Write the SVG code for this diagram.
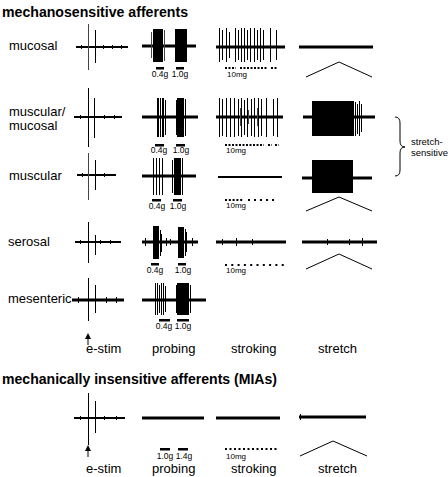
<svg xmlns="http://www.w3.org/2000/svg" width="448" height="477" viewBox="0 0 448 477">
<style>
text{font-family:"Liberation Sans",Arial,sans-serif;fill:#000}
.t{font-size:15px;font-weight:bold}
.l{font-size:13px}
.s{font-size:8.5px}
.m{font-size:8px}
.b{font-size:9.5px}
.tr{stroke:#000;stroke-width:3;fill:none}
.tn{stroke:#000;stroke-width:2;fill:none}
.sp{stroke:#000;stroke-width:1;fill:none;shape-rendering:crispEdges}
.sg{stroke:#444;stroke-width:1;fill:none;shape-rendering:crispEdges}
.nz{stroke:#000;stroke-width:1;fill:none;shape-rendering:crispEdges}
.ln{stroke:#000;stroke-width:1;fill:none}
.bar{fill:#000}
</style>
<defs>
<marker id="ah" markerWidth="6" markerHeight="6" refX="3" refY="3" orient="auto"><path d="M0,0L6,3L0,6Z" fill="#000"/></marker>
</defs>

<text class="t" x="2" y="17" textLength="186" lengthAdjust="spacingAndGlyphs">mechanosensitive afferents</text>

<!-- mucosal -->
<g id="row-mucosal">
<text class="l" x="9" y="50">mucosal</text>
<g id="mucosal-estim">
<path class="tn" d="M76 47H128"/>
<path class="nz" d="M81 45V49M103 45V49M112 45V49M121 45V49"/>
<path class="sg" d="M88 24V70"/><path class="sp" d="M95 30V63"/>
</g>
<g id="mucosal-probing">
<path class="tr" d="M142 46H196"/>
<rect x="153" y="29" width="10" height="33"/><path class="sg" d="M164 30V61M151 32V58"/>
<rect x="175" y="29" width="12" height="33"/>
<rect class="bar" x="156" y="67" width="8" height="2.5"/><rect class="bar" x="176" y="67" width="8" height="2.5"/>
<text class="s" x="160" y="77" text-anchor="middle">0.4g</text><text class="s" x="180" y="77" text-anchor="middle">1.0g</text>
</g>
<g id="mucosal-stroking">
<path class="tr" d="M216 47H285"/>
<path class="sp" d="M219 28V62M222 30V60M226 28V62M229 32V58M235 28V62M238 30V60M241 28V62M244 28V62M247 30V60M250 28V62M254 28V62M257 30V60M260 28V62M263 30V60M270 28V62M276 30V60"/>
<path class="tn" stroke-dasharray="2,1.5" d="M225 68H236M240 68H268M271 68H277"/>
<text class="m" x="227" y="77">10mg</text>
</g>
<g id="mucosal-stretch">
<path class="tr" stroke-width="4" d="M299 47H373"/>
<path class="ln" d="M306 77L339 62L372 77"/>
</g>
</g>

<!-- muscular/mucosal -->
<g id="row-muscular-mucosal">
<text class="l" x="9" y="116">muscular/</text>
<text class="l" x="9" y="130">mucosal</text>
<g id="mm-estim">
<path class="tn" d="M74 117H122"/>
<path class="nz" d="M80 115V119M104 115V119M114 115V119"/>
<path class="sp" d="M88 88V147M94 98V138"/>
</g>
<g id="mm-probing">
<path class="tr" d="M142 117H198"/>
<path class="sp" d="M157 98V137M158 98V137M160 98V137M162 98V137M163 98V137M165 100V135"/>
<rect x="177" y="98" width="7" height="39"/><path class="sp" d="M185 99V136M176 100V135"/>
<rect class="bar" x="155" y="144" width="9" height="2.5"/><rect class="bar" x="176" y="144" width="9" height="2.5"/>
<text class="s" x="159" y="153" text-anchor="middle">0.4g</text><text class="s" x="181" y="153" text-anchor="middle">1.0g</text>
</g>
<g id="mm-stroking">
<path class="tr" d="M216 117H283"/>
<path class="sp" d="M219 98V137M222 99V136M226 98V137M230 98V137M234 98V137M238 99V136M241 98V137M244 100V135M247 98V137M251 99V136M254 98V137M258 98V137M261 99V136M266 98V137M273 99V136M277 98V137"/>
<path class="sg" d="M240 108V126M248 110V124M257 108V126"/>
<path class="tn" stroke-dasharray="2,1.5" d="M225 145H264M268 145H272M275 145H279"/>
<text class="m" x="226" y="153">10mg</text>
</g>
<g id="mm-stretch">
<path class="tr" d="M303 117H375"/>
<rect x="312" y="101" width="42" height="35"/>
<path class="sp" d="M355 102V136M357 104V134M359 101V136M361 104V132"/>
</g>
</g>

<!-- brace -->
<g id="stretch-sensitive">
<path class="ln" d="M395 117Q400 117 400 123V141Q400 147 405 147Q400 147 400 153V170Q400 176 395 176"/>
<text class="b" x="411" y="145">stretch-</text>
<text class="b" x="411" y="156">sensitive</text>
</g>

<!-- muscular -->
<g id="row-muscular">
<text class="l" x="9" y="180">muscular</text>
<g id="musc-estim">
<path class="tn" d="M77 175H116"/>
<path class="nz" d="M82 173V177M104 173V177"/>
<path class="sg" d="M88 153V200"/><path class="sp" d="M95 160V190"/>
</g>
<g id="musc-probing">
<path class="tr" d="M142 176H196"/>
<path class="sp" d="M153 158V195M156 158V195M159 158V195M162 158V195"/>
<rect x="174" y="158" width="7" height="37"/><path class="sp" d="M182 158V195M172 160V193"/>
<rect class="bar" x="152" y="199" width="9" height="2.5"/><rect class="bar" x="173" y="199" width="9" height="2.5"/>
<text class="s" x="157" y="209" text-anchor="middle">0.4g</text><text class="s" x="178" y="209" text-anchor="middle">1.0g</text>
</g>
<g id="musc-stroking">
<path class="tn" d="M218 177H282"/>
<path class="tn" stroke-dasharray="2,1.8" d="M225 200H244"/>
<path class="tn" stroke-dasharray="2,4" d="M248 200H277"/>
<text class="m" x="226" y="208">10mg</text>
</g>
<g id="musc-stretch">
<path class="tr" d="M302 178H372"/>
<rect x="312" y="160" width="41" height="33"/>
<path class="ln" d="M306 211L339 197L372 211"/>
</g>
</g>

<!-- serosal -->
<g id="row-serosal">
<text class="l" x="8" y="246">serosal</text>
<g id="ser-estim">
<path class="tn" d="M75 242H121"/>
<path class="nz" d="M80 240V244M100 240V244M110 240V244"/>
<path class="sp" d="M88 222V263M95 235V255"/>
</g>
<g id="ser-probing">
<path class="tr" stroke-width="4" d="M142 242H198"/>
<path class="nz" d="M145 238V246M166 238V246M170 239V245M192 238V246"/>
<rect x="153" y="226" width="6" height="33"/><path class="sp" d="M160 230V256M161 234V252"/>
<rect x="178" y="227" width="6" height="31"/><path class="sp" d="M185 229V256M186 232V252"/>
<rect class="bar" x="151" y="263" width="8" height="2.5"/><rect class="bar" x="178" y="263" width="8" height="2.5"/>
<text class="s" x="155" y="273" text-anchor="middle">0.4g</text><text class="s" x="183" y="273" text-anchor="middle">1.0g</text>
</g>
<g id="ser-stroking">
<path class="tr" d="M216 242H286"/>
<path class="nz" d="M222 239V245M236 238V246M252 239V245"/>
<path class="tn" stroke-dasharray="2,4.3" d="M225 265H284"/>
<text class="m" x="226" y="273">10mg</text>
</g>
<g id="ser-stretch">
<path class="tr" stroke-width="4" d="M302 242H377"/>
<path class="nz" d="M327 239V245M349 239V245M362 238V246"/>
<path class="ln" d="M306 269L339 254L372 269"/>
</g>
</g>

<!-- mesenteric -->
<g id="row-mesenteric">
<text class="l" x="8" y="303">mesenteric</text>
<g id="mes-estim">
<path class="tr" d="M72 300H124"/>
<path class="nz" d="M78 297V303M106 297V303M116 297V303"/>
<path class="sp" d="M88 278V321M95 285V313"/>
</g>
<g id="mes-probing">
<path class="tr" stroke-width="4" d="M142 300H206"/>
<path class="sp" d="M155 283V315M157 283V315M159 285V313M161 283V315M163 283V315M165 286V312"/>
<rect x="177" y="283" width="12" height="32"/><path class="sp" d="M176 285V313M190 285V313"/>
<rect class="bar" x="159" y="319" width="11" height="2.5"/><rect class="bar" x="177" y="319" width="12" height="2.5"/>
<text class="s" x="164" y="329" text-anchor="middle">0.4g</text><text class="s" x="183" y="329" text-anchor="middle">1.0g</text>
</g>
</g>

<!-- column labels (top) -->
<g id="col-labels-top">
<path class="ln" d="M88 345V336" marker-end="url(#ah)"/>
<text class="l" x="86" y="353">e-stim</text>
<text class="l" x="152" y="353">probing</text>
<text class="l" x="231" y="353">stroking</text>
<text class="l" x="318" y="353">stretch</text>
</g>

<text class="t" x="2" y="384" textLength="275" lengthAdjust="spacingAndGlyphs">mechanically insensitive afferents (MIAs)</text>

<!-- MIA row -->
<g id="row-mia">
<g id="mia-estim">
<path class="tn" d="M74 418H125"/>
<path class="nz" d="M80 416V420M104 416V420M116 416V420"/>
<path class="sp" d="M88 393V445M95 401V433"/>
</g>
<g id="mia-probing">
<path class="tr" stroke-width="4" d="M142 418H204"/>
<rect class="bar" x="160" y="448" width="10" height="2.5"/><rect class="bar" x="178" y="448" width="10" height="2.5"/>
<text class="s" x="165" y="459" text-anchor="middle">1.0g</text><text class="s" x="184" y="459" text-anchor="middle">1.4g</text>
</g>
<g id="mia-stroking">
<path class="tr" stroke-width="4" d="M216 418H280"/>
<path class="tn" stroke-dasharray="2,2.5" d="M225 449H278"/>
<text class="m" x="226" y="459">10mg</text>
</g>
<g id="mia-stretch">
<path class="tr" stroke-width="4" d="M299 417H366"/>
<path class="nz" d="M300 414V420"/>
<path class="ln" d="M300 456L333 441L367 456"/>
</g>
</g>

<g id="col-labels-bottom">
<path class="ln" d="M88 457V448" marker-end="url(#ah)"/>
<text class="l" x="86" y="473">e-stim</text>
<text class="l" x="152" y="473">probing</text>
<text class="l" x="231" y="473">stroking</text>
<text class="l" x="318" y="473">stretch</text>
</g>
</svg>
